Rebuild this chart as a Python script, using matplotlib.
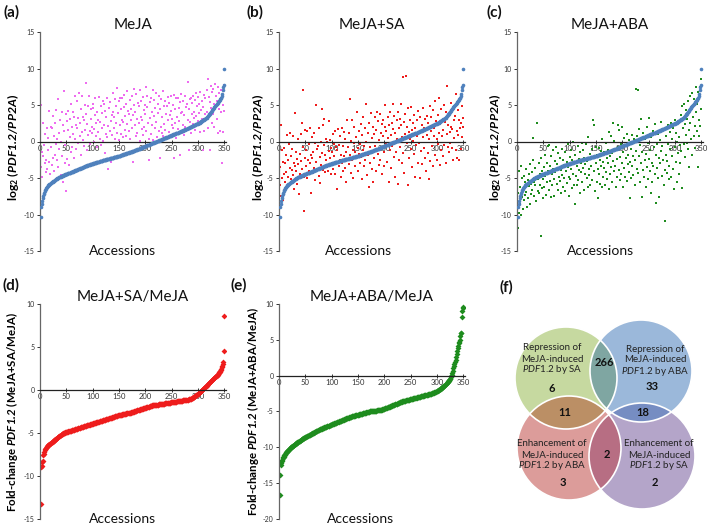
import numpy as np
import matplotlib
matplotlib.use("Agg")
import matplotlib.pyplot as plt
from matplotlib.patches import Circle

plt.rcParams['font.family'] = ['Lato', 'DejaVu Sans']
plt.rcParams['axes.unicode_minus'] = False
plt.rcParams['mathtext.fontset'] = 'custom'
plt.rcParams['mathtext.rm'] = 'Lato'
plt.rcParams['mathtext.it'] = 'Lato:italic'
plt.rcParams['mathtext.bf'] = 'Lato:bold'
plt.rcParams['mathtext.bfit'] = 'Lato:italic:bold'

# ---------------- data ----------------
meja_sorted = [
    -10.3, -9.0, -8.5, -8.2, -7.8, -7.5, -7.2, -7.0, -6.8, -6.6,
    -6.5, -6.4, -6.3, -6.2, -6.1, -6.0, -5.9, -5.85, -5.8, -5.75,
    -5.7, -5.6, -5.55, -5.5, -5.45, -5.4, -5.35, -5.3, -5.25, -5.2,
    -5.15, -5.1, -5.05, -5.0, -4.97, -4.93, -4.9, -4.86, -4.82, -4.78,
    -4.75, -4.72, -4.68, -4.65, -4.62, -4.58, -4.55, -4.52, -4.5, -4.47,
    -4.44, -4.41, -4.38, -4.35, -4.32, -4.29, -4.26, -4.23, -4.2, -4.17,
    -4.14, -4.11, -4.08, -4.05, -4.02, -3.99, -3.96, -3.93, -3.9, -3.87,
    -3.84, -3.81, -3.78, -3.75, -3.72, -3.69, -3.66, -3.63, -3.6, -3.57,
    -3.54, -3.51, -3.48, -3.45, -3.42, -3.39, -3.36, -3.33, -3.3, -3.27,
    -3.25, -3.22, -3.2, -3.17, -3.15, -3.12, -3.1, -3.07, -3.05, -3.02,
    -3.0, -2.97, -2.95, -2.92, -2.9, -2.88, -2.85, -2.83, -2.8, -2.78,
    -2.76, -2.74, -2.72, -2.7, -2.68, -2.66, -2.64, -2.62, -2.6, -2.58,
    -2.56, -2.54, -2.52, -2.5, -2.48, -2.46, -2.44, -2.42, -2.4, -2.38,
    -2.36, -2.34, -2.32, -2.3, -2.28, -2.26, -2.24, -2.22, -2.2, -2.18,
    -2.16, -2.14, -2.12, -2.1, -2.08, -2.06, -2.04, -2.02, -2.0, -1.98,
    -1.95, -1.92, -1.9, -1.87, -1.85, -1.82, -1.8, -1.77, -1.75, -1.72,
    -1.7, -1.67, -1.65, -1.62, -1.6, -1.57, -1.55, -1.52, -1.5, -1.47,
    -1.45, -1.42, -1.4, -1.37, -1.35, -1.32, -1.3, -1.27, -1.25, -1.22,
    -1.2, -1.17, -1.14, -1.11, -1.08, -1.05, -1.02, -0.99, -0.96, -0.93,
    -0.9, -0.87, -0.84, -0.81, -0.78, -0.75, -0.72, -0.69, -0.66, -0.63,
    -0.6, -0.57, -0.54, -0.51, -0.48, -0.45, -0.42, -0.39, -0.36, -0.33,
    -0.3, -0.27, -0.24, -0.21, -0.18, -0.15, -0.12, -0.09, -0.06, -0.03,
    0.0, 0.03, 0.06, 0.09, 0.12, 0.15, 0.18, 0.21, 0.24, 0.27,
    0.3, 0.33, 0.36, 0.39, 0.42, 0.45, 0.48, 0.51, 0.54, 0.57,
    0.6, 0.63, 0.66, 0.69, 0.72, 0.75, 0.78, 0.81, 0.84, 0.87,
    0.9, 0.93, 0.96, 0.99, 1.02, 1.05, 1.08, 1.11, 1.14, 1.17,
    1.2, 1.23, 1.26, 1.29, 1.32, 1.35, 1.38, 1.41, 1.44, 1.47,
    1.5, 1.53, 1.56, 1.6, 1.63, 1.66, 1.7, 1.73, 1.76, 1.8,
    1.83, 1.86, 1.9, 1.93, 1.96, 2.0, 2.03, 2.06, 2.1, 2.13,
    2.16, 2.2, 2.23, 2.26, 2.3, 2.33, 2.36, 2.4, 2.43, 2.47,
    2.5, 2.55, 2.6, 2.65, 2.7, 2.75, 2.8, 2.85, 2.9, 2.95,
    3.0, 3.05, 3.1, 3.15, 3.2, 3.28, 3.36, 3.44, 3.52, 3.6,
    3.7, 3.8, 3.9, 4.0, 4.1, 4.2, 4.3, 4.4, 4.5, 4.6,
    4.7, 4.8, 4.9, 5.0, 5.1, 5.2, 5.3, 5.4, 5.5, 5.6,
    5.7, 5.8, 5.9, 6.0, 6.2, 6.5, 7.0, 7.5, 7.7, 10.0,
]

meja_scatter = [
    -3.5, 5.0, -1.5, -4.8, 2.6, -2.0, -7.5, -0.5, -3.0, 1.0,
    -4.2, -2.5, 1.8, -3.8, 0.5, -1.2, 4.2, -2.8, -4.5, 2.0,
    -0.8, 1.9, -3.2, 3.5, -2.2, 0.8, -4.0, -1.8, 2.6, -0.3,
    4.3, -2.6, 0.3, 5.8, -3.5, 1.2, -1.0, 3.0, -4.6, 0.0,
    4.0, -2.0, 2.2, -5.5, 1.5, 6.9, -3.0, -0.5, 3.8, -6.8,
    2.8, -2.4, 1.6, 4.2, -3.2, 0.6, 3.1, -1.5, 5.2, 2.0,
    -0.7, 4.0, 1.0, -2.2, 3.3, 0.4, 6.2, -1.0, 2.3, 5.5,
    1.8, -0.2, 3.2, 6.7, 0.8, 2.6, -1.8, 4.5, 1.3, 6.3,
    3.4, 0.2, -0.6, 2.9, 5.0, 1.6, 8.0, 3.7, -1.2, 2.4,
    4.9, 0.9, 6.2, 1.4, -0.4, 3.1, 4.4, 1.1, 2.0, 5.2,
    4.6, -0.1, 1.7, 3.6, 5.9, 0.7, 2.5, 4.0, -0.8, 1.3,
    3.0, 6.1, 0.3, 2.7, 4.8, -0.5, 1.9, 3.9, 5.6, 0.1,
    2.3, 5.1, -1.6, 4.2, 1.0, 3.4, 6.0, 0.6, -3.8, 2.1,
    4.6, 1.5, 5.4, 2.8, -2.8, 3.6, 0.9, 4.1, 6.6, 1.8,
    3.3, 5.8, 0.4, 2.5, 4.9, 1.2, 7.3, 3.9, 0.2, 5.5,
    2.2, 6.0, 4.4, 1.0, 3.0, 5.9, 0.6, 2.7, 4.7, 6.4,
    1.6, 3.5, 5.1, 0.8, 2.4, 6.9, 4.2, 1.4, 3.8, 5.7,
    0.3, 2.9, 4.5, 6.2, 1.9, 3.6, -2.8, 5.0, 7.2, 2.2,
    4.0, 0.7, 6.5, 3.1, 1.2, 5.3, 2.6, 4.8, 0.1, 7.0,
    3.4, 5.6, 1.7, 2.9, 6.1, 0.9, 4.3, 2.0, 5.0, 3.7,
    7.4, 1.4, 4.7, 6.3, 2.5, 0.4, -2.5, 5.4, 3.2, 1.0,
    6.0, 4.1, 2.3, 7.0, 0.2, 3.5, 5.7, 1.8, 4.6, 6.6,
    2.7, 0.6, 5.2, 3.9, 1.5, 6.3, 4.4, -2.3, 2.0, 5.8,
    1.1, 3.3, 6.9, 0.8, 4.8, 2.4, 5.6, 1.6, 3.8, 0.3,
    4.9, 6.1, 2.9, 1.3, 5.3, 3.6, 0.7, 4.2, 6.2, 2.2,
    3.1, 5.0, 1.9, 6.4, -2.2, 4.5, 2.6, 5.9, 0.5, 3.4,
    6.0, 1.7, 4.6, 2.8, 5.4, -1.8, 3.9, 6.5, 1.2, 4.1,
    2.3, 5.5, 0.9, 3.6, 6.2, 2.0, 4.7, 1.5, 5.1, 3.0,
    8.2, 4.4, -1.2, 5.8, 2.7, 6.0, 1.1, 3.8, 5.3, 2.4,
    6.3, 4.0, 3.2, 5.7, 1.6, 6.6, 3.5, 4.9, 2.8, 6.1,
    3.9, 5.2, 1.3, 6.8, 4.3, 2.5, 5.6, 3.1, -1.2, 4.7,
    6.4, 1.4, 3.7, 5.9, 2.9, 7.0, 4.1, 1.9, 8.6, 6.1,
    3.3, 5.4, -1.2, 4.6, 7.6, 2.6, 6.8, 3.8, 7.2, 5.1,
    2.0, 7.9, 4.9, 6.3, 3.1, 5.6, 7.4, 1.2, 6.6, 4.4,
    1.4, 5.8, 7.0, 4.0, -3.0, 6.2, 1.3, 5.0, 4.2, 7.7,
]

meja_sa_scatter = [
    -6.0, -3.5, 2.3, -7.5, -5.0, -1.2, -8.0, -2.8, -4.5, -0.9,
    -5.5, -3.0, -1.8, -4.2, 0.9, -6.3, -2.5, -4.8, -0.3, -3.6,
    1.2, -5.2, -2.0, -3.9, -1.0, -4.6, 0.7, -2.9, -6.5, -3.3,
    3.9, -1.4, -4.0, -2.4, -5.8, 0.3, -3.1, -7.2, -1.7, -4.4,
    1.0, -2.7, -3.8, 2.5, -0.8, 7.1, -4.9, -9.5, -2.2, 1.6,
    -3.4, -1.1, -5.0, 1.4, -2.6, -0.4, -4.1, 1.8, -3.0, -1.9,
    -7.0, -2.3, 0.6, -4.3, -1.5, -3.6, 1.2, -0.2, -5.3, -2.8,
    5.0, -1.0, -3.8, -0.6, 1.9, -4.7, -2.1, -5.7, 0.0, -3.2,
    4.5, -1.6, 2.3, -3.9, -0.5, 3.1, -4.2, -1.9, 0.4, -2.6,
    -3.5, 0.0, -4.0, -1.3, 2.8, -2.2, 0.2, -4.4, -0.9, -3.0,
    -1.5, 1.0, -3.7, -2.0, -0.3, -4.5, 1.5, -2.8, -0.7, -6.5,
    -1.2, 1.7, -3.3, -0.5, -2.5, 0.8, -4.8, -1.8, 1.9, -2.9,
    -0.6, -4.1, 1.3, -2.0, -3.6, 0.3, -1.4, -5.5, 2.9, -2.4,
    -0.8, -3.1, 1.1, -1.9, 5.8, -4.3, 0.1, -2.6, 3.0, -1.1,
    -5.0, -0.2, 2.0, -3.3, -1.5, 0.6, -2.2, 4.1, -0.9, -4.0,
    -1.7, 1.5, -3.0, -0.4, 2.4, -2.1, -5.2, 0.9, -1.2, 3.4,
    -0.6, -3.4, 1.8, -2.5, 5.2, -0.1, -4.6, 1.2, -1.9, -6.2,
    2.6, -0.8, -2.9, 3.9, -1.4, 0.5, -3.7, 2.0, -5.6, 1.0,
    -2.2, 3.3, -0.6, -4.1, 1.6, 4.0, -1.7, 2.8, -3.2, 0.2,
    3.7, -2.6, 1.1, -0.9, 2.4, -4.5, 0.7, 3.0, -1.5, -3.4,
    2.0, 5.0, -0.4, 1.4, -2.8, 3.3, 0.5, -5.6, 2.2, -1.2,
    4.1, 0.9, -3.6, 2.6, -0.6, 1.7, 5.2, -2.1, 3.5, -4.9,
    1.2, -1.4, 2.9, 0.3, -5.8, 4.0, -2.5, 1.8, 3.1, -0.8,
    5.1, 2.2, -3.0, 0.6, 8.8, -1.6, 2.7, -4.3, 1.0, 3.7,
    9.0, -0.2, 2.0, -5.9, 4.6, 1.3, -2.2, 0.4, 3.0, -1.0,
    4.7, 1.6, -3.5, 2.5, 0.1, -1.7, 3.6, -4.8, 1.9, -0.5,
    2.9, 0.8, -2.9, 4.2, 1.1, -0.2, -5.0, 3.3, 1.5, -1.3,
    2.3, -3.1, 0.6, 4.6, -0.9, 1.8, -2.3, 3.1, -4.0, 0.9,
    3.5, -1.6, 2.6, -5.1, 0.3, 4.9, -2.7, 1.4, 3.3, -0.6,
    2.1, -3.4, 4.3, 0.7, 1.9, -1.8, 5.5, 2.8, -2.5, 0.4,
    3.6, -0.3, 5.9, 1.2, -3.2, 2.4, 4.4, -1.1, 0.8, 3.0,
    -2.0, 1.6, 5.0, -0.5, 2.7, -2.9, 4.1, 1.0, 7.6, -0.8,
    2.2, -1.5, 3.8, 1.3, -0.2, 5.3, 2.0, -0.9, 1.7, 4.6,
    -2.5, 2.9, 0.5, 3.5, -1.2, 6.5, 1.4, -2.3, 4.3, 0.9,
    3.0, -2.5, 1.9, 5.7, -1.0, 2.5, 4.8, 0.6, 3.2, 2.0,
]

meja_aba_scatter = [
    -11.8, -7.0, -9.8, -4.0, -8.5, -6.2, -10.0, -3.3, -7.6, -5.0,
    -9.2, -6.5, -4.7, -8.0, -5.6, -7.3, -3.8, -6.9, -9.0, -5.3,
    -7.8, -4.5, -6.1, -8.6, -3.1, -5.8, -7.2, -4.2, -6.7, -2.5,
    0.5, -5.5, -7.5, -3.6, -6.0, -4.9, -8.2, 2.6, -5.1, -6.8,
    -3.0, -7.0, -4.4, -5.9, -13.0, -2.2, -6.4, -4.0, -7.7, -5.2,
    -3.5, -6.2, -1.8, -4.7, -7.3, -2.9, -5.6, -0.6, -4.1, -6.6,
    -0.5, -3.3, -5.4, -7.6, -2.0, -4.5, -6.0, -1.2, -3.8, -5.1,
    -7.4, -2.7, -4.2, -0.8, -5.8, -3.1, -6.7, -1.6, -4.9, -3.6,
    -2.3, -5.4, -7.0, -3.9, -1.0, -4.6, -6.2, -2.5, -5.0, -3.2,
    -1.4, -6.8, -4.0, -2.8, -5.7, -0.3, -3.5, -4.8, -7.5, -2.1,
    -5.2, -1.2, -3.8, -6.4, -2.6, -4.4, -0.1, -5.9, -3.0, -8.6,
    -1.9, -4.7, -3.3, -6.0, -0.6, -5.3, -2.4, -3.9, -7.0, -1.5,
    -4.2, -2.9, -0.2, -5.6, -3.6, -1.1, -6.6, -2.2, -4.5, -3.1,
    -0.4, -5.0, -2.7, -6.2, 0.6, -3.8, -4.6, -1.7, -5.9, -2.4,
    -3.4, -1.0, -5.3, 2.9, -2.1, 2.2, -4.1, -6.8, -0.7, -3.0,
    -5.6, -1.9, -3.7, -7.8, -0.9, -4.4, -2.6, -5.8, -1.3, -3.3,
    -6.3, 0.3, -2.8, -4.9, -1.5, -3.6, -6.0, -0.2, -4.2, -2.3,
    -5.2, -1.1, -3.0, 1.3, -6.5, -2.0, -4.4, 0.7, -3.5, -1.6,
    -5.5, 2.6, -2.7, -4.0, 0.1, -3.3, -1.2, -6.2, -2.4, -4.8,
    2.3, -0.8, -3.9, 1.6, -5.3, -2.1, -0.3, -4.5, 2.0, -2.9,
    -1.5, -6.3, -3.6, 0.5, -4.9, -2.2, -0.6, -5.4, 1.0, -3.1,
    -1.8, -4.2, 0.2, -7.7, -2.8, -1.0, -5.0, 0.9, -3.4, -2.0,
    -4.6, 0.4, -2.5, -6.0, -1.3, 7.2, -3.7, 0.8, 7.0, -4.3,
    -2.0, 1.7, -5.6, -0.5, -3.0, 3.1, -7.6, -1.4, -3.9, 1.1,
    -4.8, -2.6, 0.3, -6.3, -1.7, 2.0, -3.5, -0.2, -5.2, -2.4,
    3.2, -4.0, -1.1, -7.0, 0.6, -2.9, -5.6, 1.5, -3.3, -0.8,
    -4.5, 2.4, -1.9, -8.4, -0.4, -3.6, 1.0, -5.0, -2.2, -7.6,
    0.2, -3.0, -1.3, 2.7, -4.7, -0.6, -2.5, 1.6, -6.0, -3.9,
    -10.9, -1.8, 0.8, -4.3, -2.7, 2.2, -0.3, -5.2, -3.4, 1.3,
    -1.0, -4.9, 2.6, -2.0, 0.4, -3.7, 1.9, -6.5, -0.7, 3.0,
    -2.8, 1.2, -5.5, 0.0, -1.6, 2.7, -4.4, 0.6, -3.0, -0.5,
    3.6, -1.3, 4.9, -6.4, 1.8, -0.4, 5.2, -2.1, 2.4, 0.9,
    4.3, -0.2, 3.1, -1.0, 5.6, 1.6, -3.5, 6.2, 2.5, 0.4,
    4.6, -1.8, 6.6, 3.3, 0.7, 5.8, 2.1, -0.9, 4.0, 7.4,
    1.5, 5.2, -3.5, 6.8, 3.0, 0.8, 7.5, 2.1, 8.5, 4.5,
]

sa_fold_sorted = [
    -13.3, -9.0, -8.8, -8.4, -8.2, -7.6, -7.4, -7.2, -7.0, -6.9,
    -6.8, -6.7, -6.6, -6.5, -6.45, -6.4, -6.35, -6.3, -6.25, -6.2,
    -6.15, -6.1, -6.05, -6.0, -5.95, -5.9, -5.85, -5.8, -5.75, -5.7,
    -5.65, -5.6, -5.55, -5.5, -5.45, -5.4, -5.35, -5.3, -5.25, -5.2,
    -5.15, -5.1, -5.07, -5.04, -5.01, -4.98, -4.96, -4.94, -4.92, -4.9,
    -4.88, -4.86, -4.84, -4.82, -4.8, -4.78, -4.76, -4.74, -4.72, -4.7,
    -4.68, -4.66, -4.64, -4.62, -4.6, -4.58, -4.56, -4.54, -4.52, -4.5,
    -4.48, -4.46, -4.44, -4.42, -4.4, -4.38, -4.36, -4.34, -4.32, -4.3,
    -4.28, -4.26, -4.24, -4.22, -4.2, -4.18, -4.16, -4.14, -4.12, -4.1,
    -4.08, -4.06, -4.04, -4.02, -4.0, -3.98, -3.96, -3.94, -3.92, -3.9,
    -3.88, -3.86, -3.84, -3.82, -3.8, -3.78, -3.76, -3.74, -3.72, -3.7,
    -3.69, -3.67, -3.66, -3.64, -3.62, -3.6, -3.58, -3.56, -3.54, -3.52,
    -3.5, -3.48, -3.46, -3.44, -3.42, -3.4, -3.38, -3.36, -3.34, -3.32,
    -3.3, -3.28, -3.26, -3.24, -3.22, -3.2, -3.18, -3.16, -3.14, -3.12,
    -3.1, -3.08, -3.06, -3.04, -3.02, -3.0, -2.98, -2.96, -2.94, -2.92,
    -2.9, -2.89, -2.88, -2.86, -2.85, -2.84, -2.82, -2.81, -2.8, -2.78,
    -2.77, -2.76, -2.74, -2.73, -2.72, -2.7, -2.69, -2.68, -2.66, -2.65,
    -2.64, -2.62, -2.6, -2.58, -2.56, -2.54, -2.52, -2.5, -2.48, -2.46,
    -2.44, -2.42, -2.4, -2.38, -2.36, -2.34, -2.32, -2.3, -2.28, -2.26,
    -2.24, -2.22, -2.2, -2.18, -2.16, -2.14, -2.12, -2.1, -2.08, -2.06,
    -2.04, -2.02, -2.0, -1.98, -1.96, -1.94, -1.92, -1.9, -1.88, -1.86,
    -1.84, -1.82, -1.8, -1.79, -1.78, -1.77, -1.76, -1.75, -1.74, -1.73,
    -1.72, -1.71, -1.7, -1.69, -1.68, -1.67, -1.66, -1.65, -1.64, -1.63,
    -1.62, -1.61, -1.6, -1.59, -1.58, -1.57, -1.56, -1.55, -1.54, -1.53,
    -1.52, -1.51, -1.5, -1.49, -1.48, -1.47, -1.46, -1.45, -1.44, -1.43,
    -1.42, -1.41, -1.4, -1.39, -1.38, -1.37, -1.36, -1.35, -1.34, -1.33,
    -1.32, -1.31, -1.3, -1.29, -1.28, -1.27, -1.26, -1.25, -1.24, -1.23,
    -1.22, -1.21, -1.2, -1.19, -1.18, -1.17, -1.16, -1.15, -1.14, -1.13,
    -1.12, -1.1, -1.08, -1.06, -1.04, -1.02, -1.0, -0.96, -0.92, -0.88,
    -0.84, -0.8, -0.76, -0.72, -0.68, -0.63, -0.58, -0.53, -0.48, -0.43,
    -0.38, -0.32, -0.26, -0.2, -0.14, -0.08, -0.02, 0.04, 0.1, 0.16,
    0.22, 0.28, 0.34, 0.4, 0.46, 0.52, 0.58, 0.64, 0.7, 0.76,
    0.82, 0.88, 0.94, 1.0, 1.06, 1.12, 1.18, 1.24, 1.3, 1.36,
    1.42, 1.48, 1.54, 1.6, 1.66, 1.72, 1.8, 1.88, 1.96, 2.05,
    2.15, 2.25, 2.35, 2.5, 2.65, 2.8, 3.0, 3.2, 4.5, 8.6,
]

aba_fold_sorted = [
    -16.7, -13.8, -12.5, -12.2, -11.9, -11.7, -11.5, -11.4, -11.3, -11.1,
    -11.0, -10.9, -10.8, -10.7, -10.6, -10.5, -10.45, -10.4, -10.3, -10.2,
    -10.1, -10.0, -9.95, -9.9, -9.85, -9.8, -9.75, -9.7, -9.65, -9.6,
    -9.55, -9.5, -9.45, -9.4, -9.3, -9.25, -9.2, -9.15, -9.1, -9.05,
    -9.0, -8.95, -8.9, -8.85, -8.8, -8.75, -8.7, -8.66, -8.62, -8.58,
    -8.54, -8.5, -8.46, -8.42, -8.38, -8.34, -8.3, -8.26, -8.22, -8.18,
    -8.14, -8.1, -8.06, -8.02, -7.98, -7.94, -7.9, -7.86, -7.82, -7.78,
    -7.74, -7.7, -7.66, -7.62, -7.58, -7.54, -7.5, -7.47, -7.44, -7.41,
    -7.38, -7.35, -7.32, -7.29, -7.26, -7.23, -7.2, -7.17, -7.14, -7.11,
    -7.08, -7.05, -7.02, -6.99, -6.96, -6.93, -6.9, -6.87, -6.84, -6.81,
    -6.78, -6.75, -6.72, -6.69, -6.66, -6.63, -6.6, -6.57, -6.54, -6.51,
    -6.48, -6.45, -6.42, -6.39, -6.36, -6.33, -6.3, -6.27, -6.24, -6.21,
    -6.18, -6.15, -6.12, -6.09, -6.06, -6.03, -6.0, -5.97, -5.94, -5.91,
    -5.88, -5.85, -5.82, -5.79, -5.76, -5.73, -5.7, -5.68, -5.66, -5.64,
    -5.62, -5.6, -5.58, -5.56, -5.54, -5.52, -5.5, -5.48, -5.46, -5.44,
    -5.42, -5.4, -5.38, -5.36, -5.34, -5.32, -5.3, -5.28, -5.26, -5.24,
    -5.22, -5.2, -5.18, -5.16, -5.14, -5.12, -5.1, -5.08, -5.06, -5.04,
    -5.02, -5.0, -4.99, -4.98, -4.97, -4.96, -4.95, -4.94, -4.93, -4.92,
    -4.91, -4.9, -4.89, -4.88, -4.87, -4.86, -4.85, -4.84, -4.83, -4.82,
    -4.81, -4.8, -4.78, -4.76, -4.74, -4.72, -4.7, -4.67, -4.64, -4.61,
    -4.58, -4.55, -4.52, -4.49, -4.46, -4.43, -4.4, -4.37, -4.34, -4.31,
    -4.28, -4.25, -4.22, -4.19, -4.16, -4.13, -4.1, -4.07, -4.04, -4.01,
    -3.98, -3.95, -3.92, -3.89, -3.86, -3.83, -3.8, -3.77, -3.74, -3.71,
    -3.68, -3.65, -3.62, -3.6, -3.58, -3.56, -3.54, -3.52, -3.5, -3.48,
    -3.46, -3.44, -3.42, -3.4, -3.38, -3.36, -3.34, -3.32, -3.3, -3.28,
    -3.26, -3.24, -3.22, -3.2, -3.18, -3.16, -3.14, -3.12, -3.1, -3.08,
    -3.06, -3.04, -3.02, -3.0, -2.98, -2.96, -2.94, -2.92, -2.9, -2.88,
    -2.86, -2.84, -2.82, -2.8, -2.78, -2.76, -2.74, -2.72, -2.7, -2.68,
    -2.66, -2.64, -2.62, -2.6, -2.58, -2.56, -2.54, -2.52, -2.5, -2.47,
    -2.44, -2.41, -2.38, -2.35, -2.32, -2.29, -2.26, -2.23, -2.2, -2.15,
    -2.1, -2.05, -2.0, -1.95, -1.9, -1.85, -1.8, -1.74, -1.68, -1.62,
    -1.56, -1.5, -1.44, -1.38, -1.3, -1.22, -1.14, -1.06, -0.98, -0.9,
    -0.8, -0.7, -0.6, -0.5, -0.4, -0.25, -0.1, 0.1, 0.4, 0.7,
    1.0, 1.3, 1.6, 1.9, 2.2, 2.6, 3.0, 3.4, 3.8, 4.2,
    4.5, 4.7, 5.0, 5.5, 5.9, 6.0, 8.2, 9.0, 9.4, 9.6,
]

x_ticks = [0, 50, 100, 150, 200, 250, 300, 350]
panel_titles = ["MeJA", "MeJA+SA", "MeJA+ABA", "MeJA+SA/MeJA", "MeJA+ABA/MeJA"]

venn_labels = [
    ("Repression of", "MeJA-induced", "by SA"),
    ("Repression of", "MeJA-induced", "by ABA"),
    ("Enhancement of", "MeJA-induced", "by ABA"),
    ("Enhancement of", "MeJA-induced", "by SA"),
]
venn_only = [6, 33, 3, 2]
venn_pairs = [266, 11, 18, 2]  # SA&ABA repr., SA repr & ABA enh., ABA repr & SA enh., both enh.

# ---------------- figure ----------------
W, H = 709, 528
fig = plt.figure(figsize=(W / 100, H / 100), dpi=100)

def px_axes(left, top, right, bottom):
    return fig.add_axes([left / W, 1 - bottom / H, (right - left) / W, (bottom - top) / H])

BLUE = '#4f81bd'
PINK = '#ee6cf0'
RED = '#ee1c1c'
GREEN = '#1e8c1e'

def setup(ax, ylim, yticks):
    ax.set_xlim(0, 353)
    ax.set_ylim(*ylim)
    ax.patch.set_alpha(0)
    for s in ['top', 'right']:
        ax.spines[s].set_visible(False)
    ax.spines['bottom'].set_position(('data', 0))
    ax.spines['left'].set_color('#666666')
    ax.spines['bottom'].set_color('#222222')
    ax.spines['left'].set_linewidth(0.9)
    ax.spines['bottom'].set_linewidth(0.9)
    ax.set_xticks(x_ticks)
    ax.set_yticks(yticks)
    ax.tick_params(axis='y', direction='out', length=2.5, width=0.7, labelsize=5,
                   colors='#333333', pad=1.5)
    ax.tick_params(axis='x', direction='inout', length=3, width=0.7, labelsize=5.5,
                   colors='#333333', pad=1)

def access_label(ax, xfrac):
    ax.text(xfrac, 0.0, "Accessions", transform=ax.transAxes, ha='center', va='center',
            fontsize=10, color='#111111')

top_axes = [px_axes(40, 32, 226, 251), px_axes(279, 32, 465, 251), px_axes(517, 32, 703, 251)]
top_scatter = [meja_scatter, meja_sa_scatter, meja_aba_scatter]
top_colors = [PINK, RED, GREEN]
ylab_x = [-0.10, -0.07, -0.075]
acc_x = [0.445, 0.425, 0.45]
ylab_top = r"log$_\mathbf{2}$ ($\mathbfit{PDF1.2/PP2A}$)"
for i, ax in enumerate(top_axes):
    setup(ax, (-15, 15), [-15, -10, -5, 0, 5, 10, 15])
    sc = top_scatter[i]
    ax.plot(np.arange(1, len(sc) + 1), sc, linestyle='none', marker='s', ms=1.9,
            mew=0, color=top_colors[i], zorder=2)
    ax.plot(np.arange(1, len(meja_sorted) + 1), meja_sorted, linestyle='none', marker='o',
            ms=2.6, mew=0, color=BLUE, zorder=3)
    ax.set_title(panel_titles[i], fontsize=11, pad=1, color='#111111')
    ax.set_ylabel(ylab_top, fontsize=8.8, fontweight='bold')
    ax.yaxis.set_label_coords(ylab_x[i], 0.475)
    access_label(ax, acc_x[i])

ax_d = px_axes(40, 304, 226, 519)
setup(ax_d, (-15, 10), [-15, -10, -5, 0, 5, 10])
ax_d.plot(np.arange(1, len(sa_fold_sorted) + 1), sa_fold_sorted, linestyle='none',
          marker='D', ms=3.0, mew=0, color=RED)
ax_d.set_title(panel_titles[3], fontsize=11, pad=0, color='#111111')
ax_d.set_ylabel(r"Fold-change $\mathbfit{PDF1.2}$ (MeJA+SA/MeJA)", fontsize=8.3,
                fontweight='bold')
ax_d.yaxis.set_label_coords(-0.11, 0.5)
access_label(ax_d, 0.445)

ax_e = px_axes(279, 304, 465, 519)
setup(ax_e, (-20, 10), [-20, -15, -10, -5, 0, 5, 10])
ax_e.plot(np.arange(1, len(aba_fold_sorted) + 1), aba_fold_sorted, linestyle='none',
          marker='D', ms=3.0, mew=0, color=GREEN)
ax_e.set_title(panel_titles[4], fontsize=11, pad=0, color='#111111')
ax_e.set_ylabel(r"Fold-change $\mathbfit{PDF1.2}$ (MeJA+ABA/MeJA)", fontsize=8.3,
                fontweight='bold')
ax_e.yaxis.set_label_coords(-0.097, 0.5)
access_label(ax_e, 0.44)

# panel letters
for lbl, (px, py) in zip(["(a)", "(b)", "(c)", "(d)", "(e)", "(f)"],
                         [(12, 12), (255, 12), (494, 12), (11, 285), (239, 285), (506, 287)]):
    fig.text(px / W, 1 - py / H, lbl, fontsize=11, fontweight='bold', ha='center',
             va='center', color='#111111')

# ---------------- Venn (f) ----------------
axv = px_axes(470, 280, 709, 528)
axv.set_xlim(470, 709)
axv.set_ylim(528, 280)
axv.axis('off')

centers = [(566, 378), (641, 371), (569, 448), (642, 456)]
radii = [51, 51, 52, 53]
fills = ['#c6d9a0', '#9bb8da', '#dc9c9a', '#b4a5c9']
for (cx, cy), r, c in zip(centers, radii, fills):
    axv.add_patch(Circle((cx, cy), r, facecolor=c, edgecolor='none', zorder=1))

overlaps = [(0, 1, '#7fa6a2'), (0, 2, '#bb8f65'), (1, 3, '#768dc2'), (2, 3, '#b76e83')]
for a, b, col in overlaps:
    p = Circle(centers[b], radii[b], facecolor=col, edgecolor='none', zorder=2)
    axv.add_patch(p)
    clip = Circle(centers[a], radii[a], transform=axv.transData)
    p.set_clip_path(clip)

for (cx, cy), r in zip(centers, radii):
    axv.add_patch(Circle((cx, cy), r, facecolor='none', edgecolor='white', lw=1.2, zorder=3))

label_pos = [(552, 359), (655, 360), (552, 455), (659, 455)]
for (lx, ly), lines in zip(label_pos, venn_labels):
    axv.text(lx, ly - 11, lines[0], fontsize=7, ha='center', va='center', color='#222222', zorder=4)
    axv.text(lx, ly, lines[1], fontsize=7, ha='center', va='center', color='#222222', zorder=4)
    axv.text(lx, ly + 11, r"$\mathit{PDF1.2}$ " + lines[2], fontsize=7, ha='center',
             va='center', color='#222222', zorder=4)

only_pos = [(552, 388), (652, 387), (563, 483), (655, 483)]
for (nx, ny), v in zip(only_pos, venn_only):
    axv.text(nx, ny, str(v), fontsize=8, fontweight='bold', ha='center', va='center',
             color='#111111', zorder=4)
pair_pos = [(604, 363), (565, 412), (643, 412), (607, 454)]
for (nx, ny), v in zip(pair_pos, venn_pairs):
    axv.text(nx, ny, str(v), fontsize=8, fontweight='bold', ha='center', va='center',
             color='#111111', zorder=4)

fig.savefig("out.png", dpi=100)
